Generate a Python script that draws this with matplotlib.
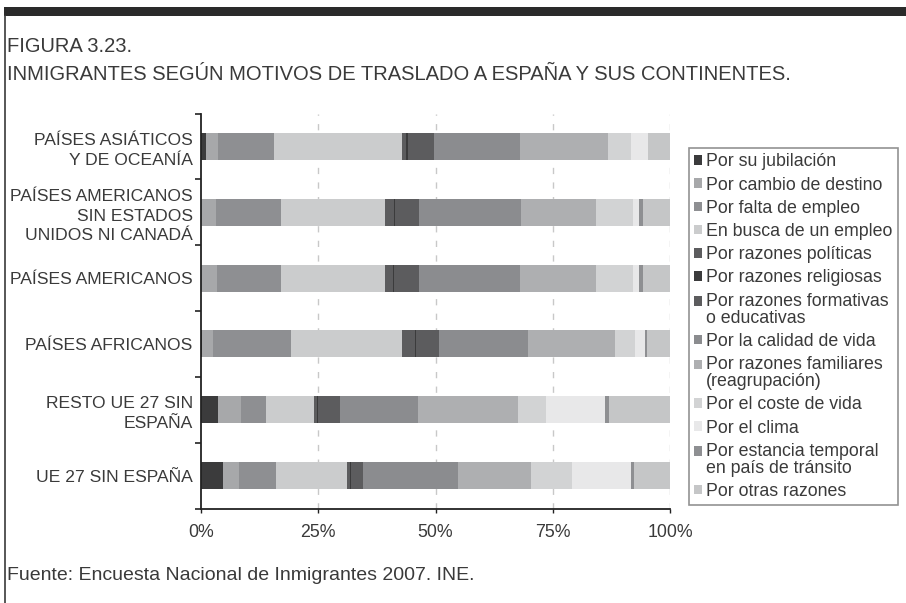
import numpy as np
import matplotlib
matplotlib.use("Agg")
from matplotlib import pyplot as plt
from matplotlib.patches import Patch, Rectangle
from matplotlib.lines import Line2D

plt.rcParams['font.family'] = ['Liberation Sans', 'DejaVu Sans']

# categorias (de arriba a abajo)
categorias = ['PAÍSES ASIÁTICOS\nY DE OCEANÍA',
              'PAÍSES AMERICANOS\nSIN ESTADOS\nUNIDOS NI CANADÁ',
              'PAÍSES AMERICANOS',
              'PAÍSES AFRICANOS',
              'RESTO UE 27 SIN\nESPAÑA',
              'UE 27 SIN ESPAÑA']

# porcentajes
jubilacion = [1.1, 0.0, 0.0, 0.2, 3.6, 4.7]
cambio_destino = [2.6, 3.2, 3.4, 2.3, 4.9, 3.4]
falta_empleo = [11.9, 13.8, 13.6, 16.6, 5.3, 7.9]
busca_empleo = [27.2, 22.3, 22.1, 23.8, 10.4, 15.1]
politicas = [1.0, 1.9, 1.7, 2.6, 0.6, 0.6]
religiosas = [0.4, 0.2, 0.2, 0.4, 0.2, 0.2]
formativas = [5.6, 5.1, 5.3, 4.7, 4.7, 2.6]
calidad_vida = [18.3, 21.7, 21.5, 19.1, 16.6, 20.4]
familiares = [18.7, 16.0, 16.2, 18.5, 21.3, 15.5]
coste_vida = [4.9, 7.9, 7.9, 4.3, 6.0, 8.7]
clima = [3.6, 1.3, 1.3, 2.1, 12.6, 12.6]
estancia_temporal = [0.1, 0.9, 0.9, 0.4, 0.9, 0.6]
otras = [4.7, 5.7, 5.7, 4.9, 13.0, 7.7]

etiquetas = ['Por su jubilación', 'Por cambio de destino', 'Por falta de empleo',
             'En busca de un empleo', 'Por razones políticas', 'Por razones religiosas',
             'Por razones formativas\no educativas', 'Por la calidad de vida',
             'Por razones familiares\n(reagrupación)', 'Por el coste de vida',
             'Por el clima', 'Por estancia temporal\nen país de tránsito',
             'Por otras razones']
colores = ['#3b3b3c', '#a7a8aa', '#8e8f92', '#cbcccd', '#5c5c5e', '#3b3b3c',
           '#5c5c5e', '#8b8c8f', '#aeafb1', '#d2d3d4', '#e8e8e9', '#8e8f92',
           '#c5c6c7']

series = [jubilacion, cambio_destino, falta_empleo, busca_empleo, politicas,
          religiosas, formativas, calidad_vida, familiares, coste_vida, clima,
          estancia_temporal, otras]

datos = np.array(series, dtype=float)
datos = datos / datos.sum(axis=0) * 100

txt = '#3a3a3a'
fig = plt.figure(figsize=(9.06, 6.03), dpi=100)
W, H = 906, 603

# banda superior y borde izquierdo
fig.add_artist(Rectangle((4 / W, 1 - 16 / H), 1, 9 / H, transform=fig.transFigure,
                         facecolor='#2a2a2a', edgecolor='none'))
fig.add_artist(Line2D([4.5 / W, 4.5 / W], [0, 1 - 16 / H], transform=fig.transFigure,
                      color='#3a3a3a', lw=1.2))

fig.text(7 / W, 1 - 46 / H, 'FIGURA 3.23.', fontsize=14.5, color=txt, va='center')
fig.text(7 / W, 1 - 75 / H,
         'INMIGRANTES SEGÚN MOTIVOS DE TRASLADO A ESPAÑA Y SUS CONTINENTES.',
         fontsize=14.5, color=txt, va='center')
fig.text(7 / W, 1 - 576 / H, 'Fuente: Encuesta Nacional de Inmigrantes 2007. INE.',
         fontsize=14, color=txt, va='center')

ax = fig.add_axes([201 / W, 1 - 508.5 / H, 469 / W, 395 / H])
y = np.arange(len(categorias))
left = np.zeros(len(categorias))
for vals, col in zip(datos, colores):
    ax.barh(y, vals, left=left, height=0.41, color=col, edgecolor='none', zorder=2)
    left = left + vals

ax.set_xlim(0, 100)
ax.set_ylim(len(categorias) - 0.5, -0.5)
for xv in [25, 50, 75, 100]:
    ax.axvline(xv, color='#c8c8c8', lw=1, ls=(0, (4.5, 6)), zorder=1)

ax.set_xticks([0, 25, 50, 75, 100])
ax.set_xticklabels(['0%', '25%', '50%', '75%', '100%'])
ax.set_yticks(np.arange(-0.5, len(categorias), 1))
ax.set_yticklabels([])
ax.set_yticks(y, minor=True)
ax.set_yticklabels(categorias, minor=True, linespacing=1.4, ha='right')
ax.tick_params(axis='y', which='major', length=4, width=1.2, color='#222222')
ax.tick_params(axis='y', which='minor', length=0, pad=6, labelsize=12.6, labelcolor=txt)
ax.tick_params(axis='x', length=3, width=1, color='#222222', pad=8, labelsize=12.8,
               labelcolor=txt)
for s in ['top', 'right']:
    ax.spines[s].set_visible(False)
for s in ['left', 'bottom']:
    ax.spines[s].set_linewidth(1.3)
    ax.spines[s].set_color('#222222')


# cuadrado de leyenda alineado con la primera linea del texto
class Cuadro:
    def __init__(self, subir):
        self.subir = subir

    def legend_artist(self, legend, orig_handle, fontsize, handlebox):
        x0, y0 = handlebox.xdescent, handlebox.ydescent
        w, h = handlebox.width, handlebox.height
        r = Rectangle((-x0, -y0 + self.subir), w, h,
                      facecolor=orig_handle.get_facecolor(), edgecolor='none',
                      transform=handlebox.get_transform())
        handlebox.add_artist(r)
        return r


handles = [Patch(facecolor=c, edgecolor='none') for c in colores]
mapa = {}
for hd, lab in zip(handles, etiquetas):
    mapa[hd] = Cuadro(6.4 if '\n' in lab else 0)

leg = fig.legend(handles, etiquetas, loc='upper left', handler_map=mapa,
                 bbox_to_anchor=(689 / W, 1 - 148 / H), bbox_transform=fig.transFigure,
                 fontsize=12.8, frameon=True, fancybox=False, borderaxespad=0,
                 handlelength=0.45, handleheight=0.45, handletextpad=0.22,
                 labelspacing=0.35, borderpad=0.3)
leg.get_frame().set_edgecolor('#777777')
leg.get_frame().set_linewidth(1.2)
for t in leg.get_texts():
    t.set_color(txt)
    t.set_linespacing(1.0)

fig.savefig('out.png', dpi=100)
